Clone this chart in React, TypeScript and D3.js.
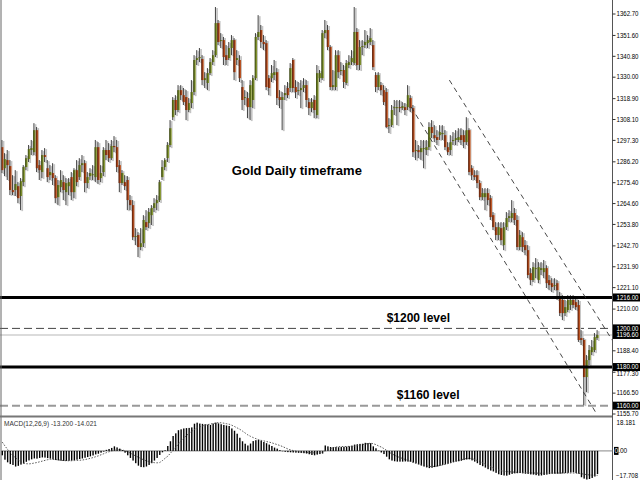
import React from 'react';
import * as d3 from 'd3';

const opens = [1293.8,1282.9,1287.1,1284.0,1271.6,1271.6,1273.6,1268.5,1275.7,1283.5,1287.6,1292.3,1291.2,1302.6,1284.5,1280.9,1289.7,1282.9,1279.3,1280.4,1277.8,1267.9,1273.1,1275.7,1270.5,1273.6,1278.3,1270.5,1281.9,1278.3,1284.5,1285.5,1275.2,1278.8,1279.3,1278.3,1293.8,1277.8,1280.9,1292.3,1292.3,1288.1,1294.4,1293.8,1284.5,1275.2,1275.7,1276.8,1266.4,1263.8,1247.8,1248.3,1242.1,1244.1,1255.0,1254.5,1258.6,1262.3,1264.8,1266.4,1278.3,1283.5,1288.1,1294.9,1309.3,1318.2,1313.0,1323.3,1320.7,1319.7,1313.0,1316.6,1322.3,1338.9,1339.9,1339.4,1328.5,1327.0,1332.1,1337.8,1341.4,1358.0,1349.2,1349.2,1341.4,1339.9,1345.1,1349.2,1338.9,1338.9,1324.9,1319.2,1319.2,1314.5,1318.2,1329.5,1350.8,1354.4,1348.2,1347.6,1329.5,1329.5,1331.1,1332.6,1319.7,1318.2,1320.7,1324.4,1324.4,1338.9,1324.9,1323.3,1323.3,1324.4,1325.9,1317.1,1314.0,1318.2,1310.4,1329.5,1329.5,1352.8,1354.4,1345.6,1324.9,1324.9,1341.4,1333.7,1333.7,1327.0,1336.3,1337.8,1337.3,1353.4,1336.3,1345.6,1346.6,1347.6,1348.2,1346.6,1331.1,1324.9,1325.9,1323.3,1322.3,1305.2,1305.2,1314.0,1314.5,1314.5,1314.0,1314.5,1314.5,1319.2,1314.0,1292.3,1292.3,1291.2,1293.3,1292.3,1293.8,1304.2,1300.0,1299.0,1300.0,1301.1,1300.0,1293.8,1292.3,1297.5,1297.5,1297.5,1300.0,1300.0,1296.4,1302.6,1282.9,1279.3,1279.3,1275.2,1267.9,1267.9,1270.0,1267.4,1258.6,1252.4,1248.3,1251.9,1243.1,1252.4,1257.1,1257.1,1259.7,1256.1,1242.1,1247.2,1243.1,1240.5,1228.6,1225.0,1231.2,1225.0,1230.2,1229.1,1231.2,1225.0,1223.4,1222.4,1223.4,1215.7,1214.7,1207.9,1209.5,1212.1,1214.7,1213.6,1212.1,1195.0,1194.0,1174.8,1183.6,1187.7,1188.8,1195.0];
const highs = [1297.5,1290.7,1292.3,1287.1,1279.3,1281.9,1275.7,1277.8,1284.5,1289.7,1294.9,1297.5,1306.2,1304.2,1287.1,1292.3,1293.3,1287.1,1284.5,1285.5,1279.3,1276.8,1281.9,1279.3,1277.8,1277.8,1280.9,1282.9,1287.1,1288.1,1289.7,1287.1,1280.9,1282.9,1284.5,1297.5,1296.4,1284.5,1293.8,1297.5,1295.9,1297.5,1299.5,1297.5,1287.1,1281.9,1279.3,1278.8,1269.0,1266.4,1251.9,1249.8,1251.9,1258.6,1261.2,1262.3,1263.8,1267.4,1269.0,1276.8,1287.1,1288.1,1296.4,1307.8,1319.7,1320.7,1325.9,1325.9,1324.4,1323.3,1319.2,1328.5,1341.4,1344.0,1345.1,1341.4,1332.6,1334.7,1339.9,1344.0,1366.3,1359.6,1352.8,1350.8,1346.6,1348.2,1351.8,1350.2,1344.0,1341.4,1328.5,1323.3,1322.3,1328.5,1331.1,1352.8,1362.1,1357.0,1351.8,1349.2,1331.1,1336.3,1338.9,1334.7,1323.3,1322.3,1325.9,1327.5,1337.3,1339.9,1328.5,1327.5,1328.5,1329.5,1328.5,1319.2,1319.2,1320.7,1336.3,1333.7,1354.4,1359.6,1357.0,1346.6,1333.7,1344.0,1344.0,1337.8,1336.3,1338.9,1341.4,1344.0,1366.3,1355.4,1349.2,1349.2,1354.4,1351.8,1355.4,1349.2,1332.6,1332.6,1327.5,1325.9,1324.4,1308.8,1315.6,1318.2,1318.2,1318.2,1317.1,1316.6,1325.9,1320.7,1315.6,1297.5,1294.9,1297.5,1297.5,1297.5,1306.7,1307.8,1305.2,1302.6,1305.2,1305.2,1302.6,1296.4,1300.0,1301.6,1302.6,1303.6,1303.6,1302.6,1309.3,1303.6,1284.5,1281.9,1281.9,1276.8,1272.6,1272.6,1272.6,1269.0,1260.2,1255.0,1255.0,1255.0,1255.0,1260.2,1261.2,1266.4,1262.3,1258.6,1250.9,1249.8,1245.7,1243.1,1231.2,1234.3,1236.4,1234.3,1234.3,1235.4,1232.7,1227.6,1226.0,1226.0,1225.0,1218.8,1217.2,1214.7,1217.2,1217.2,1217.2,1216.2,1214.7,1199.1,1195.0,1186.2,1191.4,1194.0,1197.6,1199.1];
const lows = [1280.4,1278.8,1276.8,1269.0,1269.0,1268.5,1264.8,1261.2,1273.6,1281.9,1286.1,1289.7,1289.7,1280.9,1276.8,1277.8,1286.1,1275.7,1276.8,1274.2,1264.8,1263.8,1270.5,1266.4,1263.8,1269.0,1266.4,1267.4,1273.6,1276.8,1280.9,1270.5,1272.6,1276.8,1276.8,1275.7,1274.7,1275.7,1278.8,1287.1,1286.1,1287.1,1291.2,1280.9,1270.5,1274.2,1271.6,1261.2,1261.2,1245.7,1243.1,1236.9,1240.5,1242.1,1250.9,1251.9,1253.5,1260.2,1261.2,1265.4,1276.8,1281.9,1286.1,1293.8,1307.8,1310.4,1311.9,1318.2,1315.6,1307.8,1311.9,1314.0,1320.7,1336.3,1337.8,1325.9,1324.4,1323.3,1331.1,1336.3,1340.4,1346.6,1345.1,1336.3,1336.3,1338.9,1341.4,1328.5,1336.3,1327.5,1313.0,1315.6,1308.8,1307.8,1314.0,1328.5,1349.2,1345.1,1344.0,1323.3,1320.7,1327.5,1328.5,1315.6,1314.0,1302.6,1318.2,1319.2,1322.3,1322.3,1319.2,1320.7,1314.0,1322.3,1314.5,1310.4,1311.9,1308.8,1308.8,1327.5,1328.5,1350.2,1344.0,1323.3,1323.3,1323.3,1329.5,1331.1,1324.4,1325.9,1334.7,1336.3,1336.3,1333.7,1333.7,1341.4,1345.1,1345.1,1346.6,1333.7,1322.3,1323.3,1320.7,1315.6,1303.6,1301.1,1304.2,1310.4,1305.2,1311.9,1313.0,1310.4,1313.0,1311.9,1288.7,1287.1,1288.1,1287.1,1282.9,1289.7,1292.3,1298.5,1296.4,1294.9,1297.5,1297.5,1292.3,1289.7,1289.7,1294.9,1294.9,1296.4,1294.9,1293.3,1294.9,1279.3,1276.8,1276.8,1272.6,1266.4,1266.4,1261.2,1263.8,1256.1,1250.9,1245.7,1245.7,1243.1,1240.5,1250.9,1255.0,1255.0,1253.5,1240.5,1240.5,1239.5,1237.9,1226.0,1222.4,1224.0,1226.0,1223.4,1227.6,1226.0,1220.9,1219.8,1218.8,1219.8,1214.7,1206.4,1204.3,1206.4,1208.4,1209.5,1210.5,1209.5,1193.0,1191.4,1160.3,1167.0,1181.0,1186.2,1187.7,1194.0];
const closes = [1281.9,1287.6,1284.5,1271.6,1270.5,1274.7,1267.4,1276.2,1283.5,1288.1,1292.8,1293.3,1302.6,1282.9,1281.9,1289.7,1288.7,1278.3,1280.9,1277.8,1267.4,1274.2,1276.8,1271.6,1275.2,1275.7,1270.5,1281.9,1275.7,1284.5,1285.5,1275.2,1278.3,1280.4,1279.8,1293.8,1276.8,1280.4,1292.3,1289.7,1288.1,1294.4,1293.8,1283.5,1275.2,1280.4,1273.6,1266.4,1263.8,1247.2,1247.8,1242.1,1244.1,1256.1,1252.4,1260.2,1262.3,1264.8,1266.4,1275.7,1283.5,1287.1,1294.9,1303.6,1318.2,1313.0,1323.3,1320.7,1317.1,1313.0,1316.6,1322.3,1338.9,1339.9,1340.4,1328.5,1329.5,1332.1,1337.8,1341.4,1358.0,1348.2,1349.2,1340.4,1338.9,1345.1,1349.2,1332.6,1339.9,1329.5,1318.2,1319.7,1314.5,1325.9,1329.5,1350.8,1353.4,1348.2,1347.1,1324.9,1324.4,1332.1,1332.6,1319.2,1318.2,1319.7,1321.8,1320.7,1334.7,1324.4,1322.3,1323.3,1324.4,1325.9,1318.2,1314.0,1317.1,1313.0,1332.1,1332.1,1352.8,1354.4,1345.6,1324.9,1325.9,1341.4,1332.6,1333.7,1327.5,1337.3,1337.8,1339.9,1353.4,1336.3,1345.6,1346.1,1348.2,1349.2,1350.2,1335.2,1324.9,1331.1,1323.3,1317.1,1304.2,1305.2,1313.0,1314.5,1314.5,1314.0,1315.0,1313.0,1320.7,1314.0,1291.2,1292.3,1291.2,1293.3,1293.3,1293.8,1304.2,1301.1,1298.5,1297.5,1301.6,1301.1,1293.8,1291.2,1296.4,1297.5,1298.5,1299.0,1297.5,1296.4,1302.6,1280.9,1279.3,1278.3,1275.2,1267.9,1270.0,1270.0,1266.4,1257.6,1252.4,1248.3,1252.4,1245.7,1252.4,1257.1,1258.1,1259.7,1256.1,1242.1,1248.3,1242.1,1240.5,1227.6,1225.0,1231.7,1231.2,1231.7,1231.2,1231.2,1223.4,1222.4,1221.4,1222.4,1219.8,1207.9,1207.9,1211.0,1214.7,1214.7,1212.1,1211.0,1194.0,1194.0,1174.8,1183.6,1188.8,1190.3,1195.5,1196.6];

const macdMain = [-2.5,-5,-6.5,-7.5,-8,-8.9,-8.5,-7.8,-7.2,-6.2,-5.4,-4.8,-4.3,-4.4,-4.0,-3.7,-3.8,-4.1,-4.4,-4.8,-5.2,-5.4,-5.6,-5.7,-5.7,-5.6,-5.5,-5.3,-5.0,-4.6,-4.3,-3.9,-3.5,-3.1,-2.6,-2.0,-1.6,-1.0,-0.4,0.6,1.1,1.7,2.6,2.0,1.3,0.5,-1.0,-2.5,-4.0,-5.5,-7.0,-8.4,-9.2,-9.3,-8.9,-8.0,-7.0,-5.5,-4.0,-2.3,-0.8,0.4,2.8,5.5,8.5,10.0,11.8,12.3,12.8,13.0,13.1,13.4,15.5,16.1,15.6,15.4,15.2,15.0,14.8,15.6,16.1,15.7,15.2,14.8,14.5,14.2,12.8,11.5,9.8,7.5,5.5,4.1,3.1,4.2,5.6,6.1,6.3,5.8,5.1,4.4,3.6,2.8,1.9,1.3,0.5,-0.2,-0.5,-0.7,-0.8,-0.9,-1.0,-1.1,-1.2,-1.3,-1.5,-1.9,-2.3,-2.5,-2.1,-1.8,-1.5,3.1,2.6,2.2,2.2,2.2,2.1,2.2,2.3,2.4,2.6,3.0,3.6,3.8,4.0,4.1,4.6,4.5,4.4,2.6,1.5,0.2,-0.9,-1.8,-3.3,-4.8,-5.5,-5.9,-6.1,-6.1,-6.1,-6.0,-6.1,-6.2,-6.6,-7.0,-7.6,-8.3,-8.9,-9.4,-9.8,-9.6,-9.2,-8.9,-8.5,-8.0,-7.6,-7.2,-6.8,-6.4,-6.1,-5.9,-5.6,-5.2,-4.9,-4.8,-5.4,-6.1,-7.0,-8.0,-8.7,-9.5,-10.4,-11.2,-11.7,-12.5,-13.3,-13.7,-14.0,-14.1,-13.6,-13.1,-12.8,-12.7,-12.6,-12.8,-13.0,-13.1,-13.4,-13.5,-13.8,-14.1,-14.0,-13.7,-13.5,-13.2,-13.0,-13.0,-13.0,-13.0,-12.8,-12.6,-12.5,-12.3,-12.2,-12.6,-13.0,-15.0,-15.8,-16.3,-16.0,-15.4,-14.6,-13.2];
const macdSignal = [5.0,2.8,0.8,-1.0,-2.6,-4.0,-5.2,-6.2,-6.9,-7.3,-7.4,-7.2,-6.9,-6.6,-6.2,-5.8,-5.4,-5.0,-4.8,-4.8,-4.9,-5.1,-5.3,-5.5,-5.6,-5.6,-5.6,-5.5,-5.4,-5.3,-5.2,-4.9,-4.6,-4.2,-3.8,-3.3,-2.8,-2.2,-1.6,-1.0,-0.5,0.0,0.4,0.7,0.7,0.5,0.1,-0.5,-1.3,-2.1,-2.9,-3.6,-4.4,-5.1,-5.7,-6.1,-6.5,-6.7,-6.8,-6.6,-5.5,-4.2,-3.0,-1.3,0.4,2.2,4.0,5.8,7.3,8.8,10.0,11.2,12.2,13.0,13.7,14.2,14.7,15.0,15.3,15.6,15.9,16.1,16.0,15.8,15.5,15.2,14.6,13.9,13.1,12.3,11.3,10.2,9.1,8.3,7.6,7.0,6.4,6.0,5.7,5.3,5.0,4.6,4.1,3.6,3.1,2.5,1.8,1.1,0.6,0.2,-0.2,-0.5,-0.7,-0.8,-0.9,-1.0,-1.1,-1.1,-1.2,-1.1,-0.6,0.0,0.6,1.2,1.8,2.2,2.4,2.5,2.5,2.5,2.6,2.6,2.8,3.0,3.3,3.6,3.9,4.2,4.4,4.1,3.6,2.8,2.2,1.3,0.3,-0.8,-1.7,-2.5,-3.2,-3.8,-4.3,-4.9,-5.4,-6.0,-6.6,-7.1,-7.6,-8.0,-8.3,-8.6,-8.9,-8.9,-8.8,-8.6,-8.3,-8.0,-7.6,-7.2,-6.8,-6.3,-5.8,-5.4,-5.0,-4.6,-4.3,-4.2,-4.4,-4.9,-5.5,-6.1,-6.8,-7.5,-8.2,-9.0,-9.8,-10.4,-10.9,-11.3,-11.6,-11.8,-11.9,-12.0,-12.1,-12.2,-12.2,-12.3,-12.4,-12.4,-12.5,-12.6,-12.6,-12.7,-12.7,-12.7,-12.7,-12.6,-12.6,-12.6,-12.6,-12.6,-12.6,-12.6,-12.6,-12.6,-12.6,-12.7,-12.8,-13.0,-13.3,-13.5,-13.7,-13.8,-13.9,-14.021];

const priceTicks = [1362.7,1351.6,1340.8,1330.0,1318.9,1308.1,1297.3,1286.2,1275.4,1264.6,1253.8,1242.7,1231.9,1221.1,1210.0,1188.4,1177.3,1166.5,1155.7];
const boxedLevels = [1216.0, 1200.0, 1196.6, 1180.0, 1160.0];
const thickLevels = [1216.0, 1180.0];
const dashedLevels = [1200.0, 1160.0];
const bidPrice = 1196.6;
const upperChannel = [{ i: 167.5, p: 1328.5 }, { i: 229.2, p: 1192.4 }];
const lowerChannel = [{ i: 153.2, p: 1314.6 }, { i: 222.4, p: 1156.4 }];
const annotations = [
  { text: 'Gold Daily timeframe', i: 86, p: 1279.4, size: 13 },
  { text: '$1200 level', i: 144, p: 1203.2, size: 12 },
  { text: '$1160 level', i: 147.8, p: 1163.4, size: 12 },
];
const macdLabel = 'MACD(12,26,9) -13.200 -14.021';
const macdTop = 18.181;
const macdBottom = -17.708;

const W = 640;
const H = 480;
const AX = 612.5;
const FONT = "'Liberation Sans', Arial, sans-serif";
const LBL = 6.5;

export default function App() {
  const n = closes.length;
  const x = d3.scaleLinear().domain([0, n - 1]).range([2.3, 597.5]);
  const y = d3.scaleLinear().domain([1362.7, 1155.7]).range([14, 414]);
  const ym = d3.scaleLinear().domain([macdTop, macdBottom]).range([419, 482]);
  const signalLine = d3.line<number>().x((_, i) => x(i)).y((d) => ym(d));
  const fmt = d3.format('.2f');

  // nudge plain tick labels that sit right under a boxed level so they stay readable
  const labelY = (t: number) => {
    let yy = y(t) + 2.3;
    boxedLevels.forEach((b) => {
      const d = y(t) - y(b);
      if (d > 0 && d < 7.5) yy = y(b) + 4 + 5.2;
    });
    return yy;
  };

  return (
    <svg width={W} height={H} style={{ position: 'absolute', left: 0, top: 0, background: '#fff' }}>
      <defs>
        <linearGradient id="bull" x1="0" x2="1" y1="0" y2="0">
          <stop offset="0" stopColor="#3f4c12" />
          <stop offset="0.5" stopColor="#5d6e1c" />
          <stop offset="1" stopColor="#a3b443" />
        </linearGradient>
        <linearGradient id="bear" x1="0" x2="1" y1="0" y2="0">
          <stop offset="0" stopColor="#5a200a" />
          <stop offset="0.5" stopColor="#8e3612" />
          <stop offset="1" stopColor="#dc6a30" />
        </linearGradient>
        <clipPath id="mainClip"><rect x={0} y={0} width={AX} height={416} /></clipPath>
      </defs>
      <rect x={0} y={0} width={W} height={H} fill="#fff" />

      <line x1={0} x2={AX} y1={y(bidPrice)} y2={y(bidPrice)} stroke="#cfcfcf" strokeWidth={1.5} />
      {dashedLevels.map((v, k) => (
        <line key={'d' + v} x1={0} x2={AX} y1={y(v)} y2={y(v)} stroke={k === 0 ? '#444' : '#999'}
          strokeWidth={k === 0 ? 1 : 2} strokeDasharray="8,4" />
      ))}

      <g clipPath="url(#mainClip)">
        {closes.map((c, i) => {
          const o = opens[i];
          const cx = x(i);
          const top = y(Math.max(o, c));
          const bot = y(Math.min(o, c));
          const bh = Math.max(1, bot - top);
          return (
            <g key={i}>
              <rect x={cx + 0.4} y={y(highs[i]) + 1} width={1.7} height={y(lows[i]) - y(highs[i])} fill="#c4c4c4" />
              <line x1={cx - 0.4} x2={cx - 0.4} y1={y(highs[i])} y2={y(lows[i])} stroke="#2a2a2a" strokeWidth={0.9} />
              <rect x={cx - 1.2} y={top} width={2.4} height={bh} fill={c >= o ? 'url(#bull)' : 'url(#bear)'} />
            </g>
          );
        })}
      </g>

      {thickLevels.map((v) => (
        <line key={'t' + v} x1={0} x2={AX} y1={y(v)} y2={y(v)} stroke="#000" strokeWidth={3} />
      ))}

      <g clipPath="url(#mainClip)">
        {[upperChannel, lowerChannel].map((ch, k) => (
          <line key={'c' + k} x1={x(ch[0].i)} y1={y(ch[0].p)} x2={x(ch[1].i)} y2={y(ch[1].p)}
            stroke="#333" strokeWidth={0.9} strokeDasharray="5,4" />
        ))}
      </g>

      {annotations.map((a) => (
        <text key={a.text} x={x(a.i)} y={y(a.p)} fontFamily={FONT} fontWeight="bold" fontSize={a.size} fill="#000">{a.text}</text>
      ))}

      <line x1={1} x2={1} y1={0} y2={H} stroke="#666" strokeWidth={1} />
      <line x1={0} x2={AX} y1={416.5} y2={416.5} stroke="#777" strokeWidth={2} />
      <line x1={AX} x2={AX} y1={0} y2={H} stroke="#555" strokeWidth={1} />

      {priceTicks.map((t) => (
        <g key={'p' + t}>
          <line x1={AX} x2={AX + 3} y1={y(t)} y2={y(t)} stroke="#333" strokeWidth={1} />
          <text x={616.5} y={labelY(t)} fontFamily={FONT} fontSize={LBL} textLength={22} lengthAdjust="spacingAndGlyphs" fill="#000">{fmt(t)}</text>
        </g>
      ))}
      {boxedLevels.map((v) => (
        <g key={'b' + v}>
          <rect x={613} y={y(v) - 4} width={27} height={8} fill="#000" />
          <text x={616.5} y={y(v) + 2.3} fontFamily={FONT} fontSize={LBL} textLength={22} lengthAdjust="spacingAndGlyphs" fill="#fff">{fmt(v)}</text>
        </g>
      ))}

      <g>
        <line x1={1} x2={AX} y1={ym(0)} y2={ym(0)} stroke="#888" strokeWidth={1} />
        {macdMain.map((v, i) => (
          <rect key={'h' + i} x={x(i) - 0.7} y={Math.min(ym(v), ym(0))} width={1.4}
            height={Math.abs(ym(v) - ym(0))} fill="#000" />
        ))}
        <path d={signalLine(macdSignal) || ''} fill="none" stroke="#444" strokeWidth={0.9} strokeDasharray="1.5,1.5" />
        <text x={4} y={426} fontFamily={FONT} fontSize={6.5} fill="#333">{macdLabel}</text>
        <text x={616.5} y={425} fontFamily={FONT} fontSize={LBL} textLength={19} lengthAdjust="spacingAndGlyphs" fill="#000">{d3.format('.3f')(macdTop)}</text>
        <rect x={614} y={ym(0) - 4} width={4.5} height={8} fill="#000" />
        <text x={614.5} y={ym(0) + 2.3} fontFamily={FONT} fontSize={LBL} fill="#000"><tspan fill="#fff">0</tspan>.00</text>
        <text x={616} y={478} fontFamily={FONT} fontSize={LBL} textLength={22} lengthAdjust="spacingAndGlyphs" fill="#000">{d3.format('.3f')(macdBottom)}</text>
      </g>
    </svg>
  );
}
